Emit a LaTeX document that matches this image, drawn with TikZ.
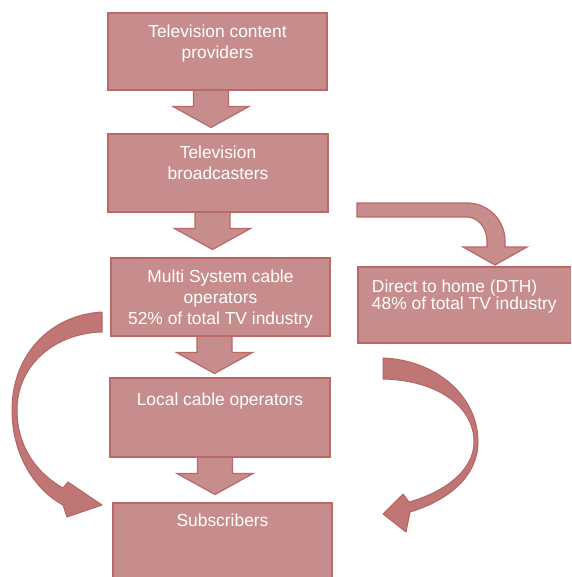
\documentclass[tikz,border=0pt]{standalone}
\usepackage{fontspec}
\setmainfont{Liberation Sans}
\usetikzlibrary{calc}
\definecolor{boxfill}{RGB}{199,141,140}
\definecolor{boxline}{RGB}{187,104,103}
\definecolor{curvefill}{RGB}{193,118,118}
\definecolor{curveline}{RGB}{184,100,100}
\newcommand{\firstlinestrut}{\rule{0pt}{13pt}}
\tikzset{
  box/.style={draw=boxline, line width=2.5pt, fill=boxfill, rectangle, inner sep=0pt},
  lbl/.style={text=white, font=\fontsize{17.4}{21}\selectfont, align=center, inner sep=0pt, anchor=north},
  lbltight/.style={text=white, font=\fontsize{17.4}{16.7}\selectfont, align=left, inner sep=0pt, anchor=north west},
  blk/.style={draw=boxline, line width=1.2pt, fill=boxfill, line join=miter},
  crv/.style={draw=curveline, line width=1pt, fill=curvefill, line join=round},
  dblk/.pic={\path[blk] (-17.5,0) -- (-17.5,16.5) -- (-38,16.5) -- (0,37.5) -- (38,16.5) -- (17.5,16.5) -- (17.5,0) -- cycle;}
}
\begin{document}
\begin{tikzpicture}[x=1pt,y=-1pt]
\useasboundingbox (0,0) rectangle (571,577);
\clip (0,0) rectangle (571,577);
% named anchor points for the box centres
\coordinate (c1) at (217.5,51.5);
\coordinate (c2) at (218,173);
\coordinate (c3) at (220.5,297);
\coordinate (c4) at (220,417.5);
\coordinate (c5) at (222.5,546.5);
\coordinate (c6) at (469,305);
% down block arrows (under the boxes)
\pic at ($(c1)+(-6.5,38.5)$) {dblk};
\pic at ($(c2)+(-5.5,39)$) {dblk};
\pic at ($(c3)+(-6,39)$) {dblk};
\pic at ($(c4)+(-5,39.5)$) {dblk};
% bent arrow towards DTH
\path[blk] (357,203) -- (467,203) .. controls (488,203) and (505,220) .. (505,241)
  -- (505,247) -- (527,247) -- (495,265) -- (463,247) -- (487,247) -- (487,241)
  .. controls (487,228) and (478,217) .. (467,217) -- (357,217) -- cycle;
% left curved arrow (MSO -> Subscribers)
\path[crv] (102,312) .. controls (50,315) and (12,355) .. (12,410)
  .. controls (12,455) and (35,490) .. (63,505) -- (67,517) -- (102,505) -- (68,482) -- (63,488)
  .. controls (35,472) and (17,445) .. (17,410)
  .. controls (17,365) and (55,333) .. (102,332) -- cycle;
% right curved arrow (DTH -> Subscribers)
\path[crv] (383,358) .. controls (435,360) and (478,395) .. (478,442)
  .. controls (478,475) and (450,500) .. (410,512) -- (406,532) -- (383,514) -- (403,494) -- (409,502)
  .. controls (445,492) and (474,470) .. (474,442)
  .. controls (474,405) and (435,380) .. (383,379) -- cycle;
% boxes
\node[box, minimum width=219pt, minimum height=77pt] (b1) at (c1) {};
\node[box, minimum width=220pt, minimum height=78pt] (b2) at (c2) {};
\node[box, minimum width=219pt, minimum height=78pt] (b3) at (c3) {};
\node[box, minimum width=220pt, minimum height=79pt] (b4) at (c4) {};
\node[box, minimum width=219pt, minimum height=87pt] (b5) at (c5) {};
\node[box, minimum width=222pt, minimum height=76pt] (b6) at (c6) {};
% labels
\node[lbl] (t1) at ($(b1.north)+(0,12.5)$) {\firstlinestrut Television content\\providers};
\node[lbl] (t2) at ($(b2.north)+(0,12.5)$) {\firstlinestrut Television\\broadcasters};
\node[lbl] (t3) at ($(b3.north)+(0,12.7)$) {\firstlinestrut Multi System cable\\operators\\52\% of total TV industry};
\node[lbl] (t4) at ($(b4.north)+(0,15.5)$) {\firstlinestrut Local cable operators};
\node[lbl] (t5) at ($(b5.north)+(0,12)$) {\firstlinestrut Subscribers};
\node[lbltight] (t6) at ($(b6.north west)+(15,13.7)$) {\firstlinestrut Direct to home (DTH)\\48\% of total TV industry};
\end{tikzpicture}
\end{document}
